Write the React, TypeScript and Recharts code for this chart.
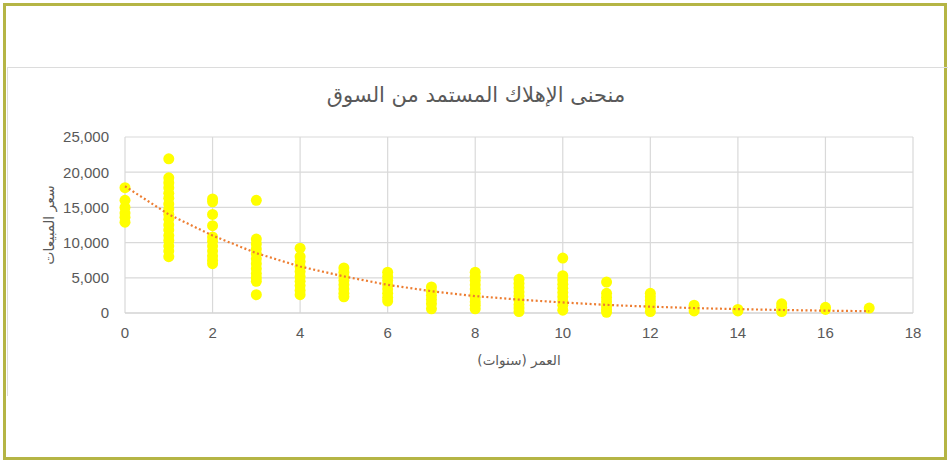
import React from 'react';
import { ScatterChart, Scatter, XAxis, YAxis, CartesianGrid } from 'recharts';

const titleText = 'منحنى الإهلاك المستمد من السوق';
const xAxisTitle = 'العمر (سنوات)';
const yAxisTitle = 'سعر المبيعات';

const xTicks = [0, 2, 4, 6, 8, 10, 12, 14, 16, 18];
const yTicks = [0, 5000, 10000, 15000, 20000, 25000];

const age0 = [17800, 16000, 15000, 14200, 13600, 12900];
const age1 = [21900, 19200, 18500, 17800, 17000, 16300, 15500, 14800, 14000, 13300, 12500, 11800, 11000, 10300, 9500, 8800, 8000];
const age2 = [16200, 15800, 14000, 12400, 10800, 10200, 9500, 8800, 8100, 7500, 7000];
const age3 = [16000, 10500, 9800, 9100, 8400, 7700, 7000, 6300, 5600, 5000, 4500, 2600];
const age4 = [9200, 8000, 7300, 6600, 5900, 5200, 4500, 3900, 3200, 2600];
const age5 = [6400, 5800, 5200, 4600, 4000, 3400, 2800, 2300];
const age6 = [5800, 5200, 4600, 4000, 3400, 2800, 2200, 1700];
const age7 = [3700, 3100, 2500, 1900, 1300, 600];
const age8 = [5800, 5200, 4600, 4000, 3400, 2800, 2200, 1600, 1100, 600];
const age9 = [4800, 4200, 3600, 3000, 2400, 1800, 1200, 700, 200];
const age10 = [7800, 5300, 4700, 4100, 3500, 2900, 2300, 1700, 1100, 400];
const age11 = [4400, 2800, 2200, 1600, 1000, 500, 100];
const age12 = [2800, 2300, 1800, 1300, 800, 200];
const age13 = [1100, 700, 300];
const age14 = [500, 300];
const age15 = [1300, 800, 200];
const age16 = [800, 500];
const age17 = [700];

const pricesByAge = [age0, age1, age2, age3, age4, age5, age6, age7, age8, age9, age10, age11, age12, age13, age14, age15, age16, age17];

const trendAges = [0, 1, 2, 3, 4, 5, 6, 7, 8, 9, 10, 11, 12, 13, 14, 15, 16, 17];
const trendValues = [18000, 14000, 11000, 8500, 6600, 5200, 4000, 3100, 2400, 1900, 1500, 1150, 900, 700, 550, 430, 330, 260];

const points = pricesByAge.flatMap((arr, age) => arr.map((v) => ({ x: age, y: v })));
const trend = trendAges.map((a, i) => ({ x: a, y: trendValues[i] }));

const textColor = '#595959';
const arabicFont = '"DejaVu Sans", "Noto Sans", sans-serif';

const Dot = (props: any) => <circle cx={props.cx} cy={props.cy} r={5.5} fill="#FFFF00" />;
const NoDot = () => <g />;

export default function App() {
  return (
    <div style={{ position: 'absolute', left: 0, top: 0, width: 952, height: 461, background: '#fff', overflow: 'hidden' }}>
      <div style={{ position: 'absolute', left: 3, top: 3, width: 938, height: 451, border: '3px solid #b5b545' }} />
      <div style={{ position: 'absolute', left: 7, top: 67, width: 940, height: 328, borderTop: '1px solid #dcdcdc', borderLeft: '1px solid #dcdcdc' }} />
      <div style={{ position: 'absolute', left: 0, top: 0 }}>
        <ScatterChart width={952} height={461} margin={{ top: 137, right: 39, bottom: 118, left: 55 }}>
          <CartesianGrid stroke="#d9d9d9" strokeWidth={1.2} />
          <XAxis
            type="number"
            dataKey="x"
            domain={[0, 18]}
            ticks={xTicks}
            interval={0}
            axisLine={{ stroke: '#d0d0d0' }}
            tickLine={false}
            height={30}
            tick={{ fill: textColor, fontSize: 15, fontFamily: 'Liberation Sans, Arial, sans-serif' }}
            tickMargin={8}
          />
          <YAxis
            type="number"
            dataKey="y"
            domain={[0, 25000]}
            ticks={yTicks}
            interval={0}
            axisLine={false}
            tickLine={false}
            width={70}
            tick={{ fill: textColor, fontSize: 15, fontFamily: 'Liberation Sans, Arial, sans-serif' }}
            tickFormatter={(v: number) => v.toLocaleString('en-US')}
            tickMargin={10}
          />
          <Scatter data={points} shape={Dot} isAnimationActive={false} />
          <Scatter
            data={trend}
            shape={NoDot}
            line={{ stroke: '#ED7D31', strokeWidth: 2.2, strokeDasharray: '2 2.5' }}
            lineType="joint"
            isAnimationActive={false}
          />
        </ScatterChart>
      </div>
      <div style={{ position: 'absolute', left: 0, width: 952, top: 83, textAlign: 'center', fontFamily: arabicFont, fontSize: 21, color: textColor, direction: 'rtl' }}>
        {titleText}
      </div>
      <div style={{ position: 'absolute', left: 419, width: 200, top: 352, textAlign: 'center', fontFamily: arabicFont, fontSize: 13.5, color: textColor, direction: 'rtl' }}>
        {xAxisTitle}
      </div>
      <div style={{ position: 'absolute', left: 49, top: 225, width: 0, height: 0 }}>
        <div style={{ position: 'absolute', left: -80, top: -10, width: 160, textAlign: 'center', transform: 'rotate(-90deg)', fontFamily: arabicFont, fontSize: 14, color: textColor, direction: 'rtl', lineHeight: '20px' }}>
          {yAxisTitle}
        </div>
      </div>
    </div>
  );
}
